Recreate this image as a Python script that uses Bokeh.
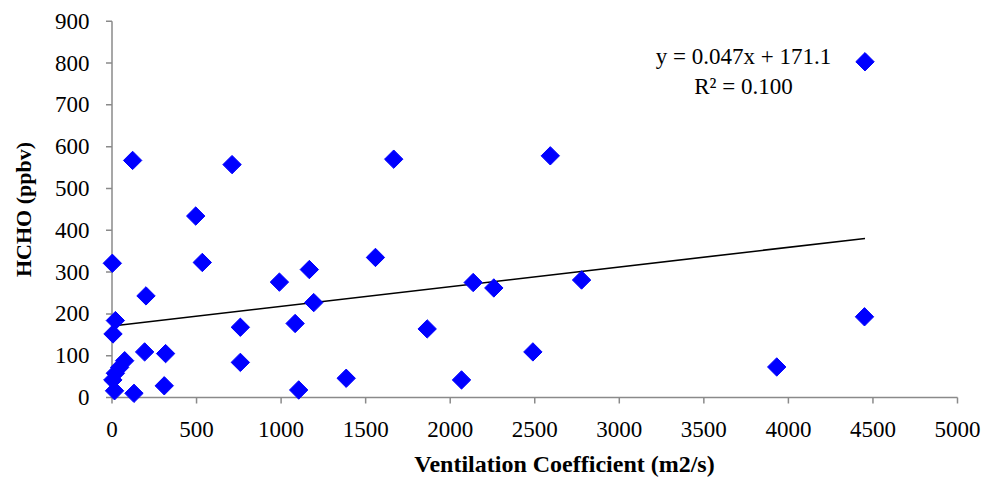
import math
from bokeh.plotting import figure
from bokeh.models import Range1d, Label
from bokeh.core.properties import value
from bokeh.embed import file_html
from bokeh.resources import INLINE

# Data
vent_coef = [122, 710, 495, 2, 534, 990, 201, 20, 6, 759, 1083, 193, 317,
             75, 45, 20, 5, 15, 130, 309, 759,
             1666, 1167, 1558, 1193, 2136, 2258, 1864, 2489, 1385, 1104, 2067,
             2592, 2777, 3931, 4453, 4450]
hcho = [567, 557, 434, 321, 323, 276, 243, 184, 152, 168, 177, 109, 105,
        88, 72, 58, 42, 16, 10, 28, 84,
        570, 306, 335, 227, 275, 262, 164, 109, 46, 18, 42,
        578, 281, 73, 803, 193]

slope = 0.047
intercept = 171.1
eq_text = "y = 0.047x + 171.1"
r2_text = "R\u00b2 = 0.100"
x_title = "Ventilation Coefficient (m2/s)"
y_title = "HCHO (ppbv)"

x_ticks = [0, 500, 1000, 1500, 2000, 2500, 3000, 3500, 4000, 4500, 5000]
y_ticks = [0, 100, 200, 300, 400, 500, 600, 700, 800, 900]
x_tick_labels = [str(t) for t in x_ticks]
y_tick_labels = [str(t) for t in y_ticks]

FONT = "Liberation Serif"
AXIS_COLOR = "#8a8a8a"

# layout (pixels): plot area inside the full canvas
W, H = 985, 478
PX_LEFT, PX_RIGHT = 111.5, 957.0     # x = 0 and x = 5000
PX_BOTTOM, PX_TOP = 397.0, 20.7      # y = 0 and y = 900 (from top)
XMIN, XMAX = x_ticks[0], x_ticks[-1]
YMIN, YMAX = y_ticks[0], y_ticks[-1]
sx = (PX_RIGHT - PX_LEFT) / (XMAX - XMIN)
sy = (PX_BOTTOM - PX_TOP) / (YMAX - YMIN)
x_range = Range1d(XMIN - PX_LEFT / sx, XMAX + (W - PX_RIGHT) / sx)
y_range = Range1d(YMIN - (H - PX_BOTTOM) / sy, YMAX + PX_TOP / sy)
TICK = 6
tx = TICK / sx
ty = TICK / sy

p = figure(width=W, height=H, output_backend="svg", toolbar_location=None,
           x_range=x_range, y_range=y_range,
           x_axis_location=None, y_axis_location=None,
           min_border=0, min_border_left=0, min_border_right=0,
           min_border_top=0, min_border_bottom=0)
p.outline_line_color = None
p.grid.visible = False
p.background_fill_color = "white"
p.border_fill_color = "white"

# axis lines and tick marks
p.segment(x0=[XMIN], y0=[YMIN], x1=[XMAX], y1=[YMIN], line_color=AXIS_COLOR, line_width=1.5)
p.segment(x0=[XMIN], y0=[YMIN], x1=[XMIN], y1=[YMAX], line_color=AXIS_COLOR, line_width=1.5)
p.segment(x0=x_ticks, y0=[YMIN] * len(x_ticks), x1=x_ticks,
          y1=[YMIN - ty] * len(x_ticks), line_color=AXIS_COLOR, line_width=1.5)
p.segment(x0=[XMIN] * len(y_ticks), y0=y_ticks, x1=[XMIN - tx] * len(y_ticks),
          y1=y_ticks, line_color=AXIS_COLOR, line_width=1.5)

# tick labels
p.text(x=x_ticks, y=[YMIN] * len(x_ticks), text=x_tick_labels,
       text_align="center", text_baseline="middle", y_offset=32,
       text_font=value(FONT), text_font_size=value("23px"), text_color="black")
p.text(x=[XMIN] * len(y_ticks), y=y_ticks, text=y_tick_labels,
       text_align="right", text_baseline="middle", x_offset=-22.5,
       text_font=value(FONT), text_font_size=value("23px"), text_color="black")

# trend line
xs = [min(vent_coef), max(vent_coef)]
ys = [slope * v + intercept for v in xs]
p.line(xs, ys, line_color="black", line_width=1.6)

p.scatter(vent_coef, hcho, marker="square", size=13, angle=math.pi / 4,
          fill_color="#0000FF", line_color="#0000FF")

# axis titles
p.add_layout(Label(x=564, y=15, x_units="screen", y_units="screen",
                   text=x_title, text_align="center", text_baseline="middle",
                   text_font=FONT, text_font_size="24px",
                   text_font_style="bold", text_color="black"))
p.add_layout(Label(x=23, y=H - 209, x_units="screen", y_units="screen",
                   text=y_title, angle=math.pi / 2, text_align="center",
                   text_baseline="middle", text_font=FONT,
                   text_font_size="22px", text_font_style="bold",
                   text_color="black"))

# regression annotation
p.add_layout(Label(x=3734, y=815, text=eq_text, text_align="center",
                   text_baseline="middle", text_font=FONT,
                   text_font_size="23px", text_color="black"))
p.add_layout(Label(x=3734, y=745, text=r2_text, text_align="center",
                   text_baseline="middle", text_font=FONT,
                   text_font_size="23px", text_color="black"))

open("out.html", "w").write(file_html(p, INLINE))
